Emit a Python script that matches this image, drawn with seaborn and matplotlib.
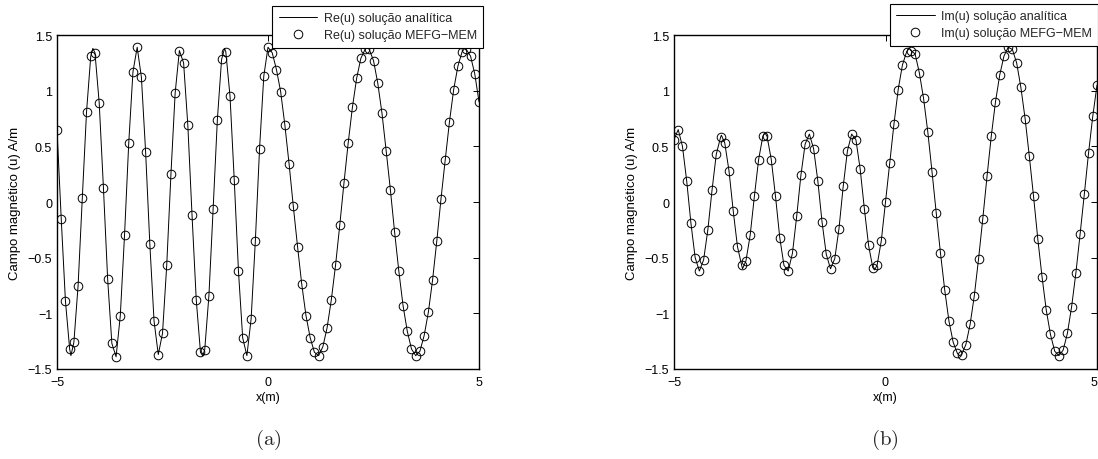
import numpy as np
import pandas as pd
import matplotlib
matplotlib.use("Agg")
import matplotlib.pyplot as plt
import seaborn as sns

sns.set_theme(style="white")
plt.rcParams["font.family"] = ["Liberation Sans", "DejaVu Sans"]
plt.rcParams["mathtext.fontset"] = "cm"

# Nodes of the meshless discretisation on [-5, 5]
x_nodes = np.linspace(-5.0, 5.0, 101)

# Real part of u at the nodes (MEFG-MEM solution)
re_mefg = [
    0.65, -0.15, -0.89, -1.32, -1.26, -0.75, 0.04, 0.81, 1.31, 1.34,
    0.89, 0.13, -0.69, -1.27, -1.39, -1.02, -0.30, 0.53, 1.17, 1.39,
    1.12, 0.45, -0.38, -1.07, -1.37, -1.18, -0.57, 0.25, 0.98, 1.36,
    1.25, 0.69, -0.12, -0.88, -1.35, -1.33, -0.84, -0.06, 0.74, 1.28,
    1.35, 0.95, 0.20, -0.62, -1.22, -1.38, -1.05, -0.35, 0.48, 1.13,
    1.39,
    1.34, 1.19, 0.99, 0.69, 0.34, -0.04, -0.40, -0.74, -1.02, -1.22,
    -1.35, -1.38, -1.30, -1.13, -0.88, -0.57, -0.21, 0.17, 0.53, 0.85,
    1.11, 1.29, 1.37, 1.37, 1.27, 1.07, 0.80, 0.46, 0.11, -0.27,
    -0.62, -0.93, -1.16, -1.32, -1.38, -1.34, -1.20, -0.99, -0.70, -0.35,
    0.03, 0.38, 0.72, 1.01, 1.22, 1.35, 1.37, 1.31, 1.15, 0.90,
]

# Imaginary part of u at the nodes (MEFG-MEM solution)
im_mefg = [
    0.56, 0.65, 0.50, 0.19, -0.19, -0.50, -0.62, -0.52, -0.25, 0.11,
    0.43, 0.58, 0.53, 0.28, -0.08, -0.40, -0.57, -0.53, -0.30, 0.05,
    0.38, 0.59, 0.59, 0.38, 0.05, -0.32, -0.57, -0.62, -0.46, -0.13,
    0.24, 0.52, 0.61, 0.48, 0.19, -0.18, -0.47, -0.60, -0.51, -0.24,
    0.14, 0.46, 0.61, 0.56, 0.30, -0.06, -0.39, -0.59, -0.57, -0.35,
    0.00,
    0.35, 0.70, 1.01, 1.23, 1.35, 1.36, 1.33, 1.16, 0.93, 0.63,
    0.27, -0.10, -0.46, -0.79, -1.07, -1.26, -1.36, -1.37, -1.28, -1.10,
    -0.84, -0.51, -0.15, 0.23, 0.59, 0.90, 1.14, 1.31, 1.39, 1.37,
    1.25, 1.03, 0.75, 0.41, 0.05, -0.33, -0.67, -0.97, -1.19, -1.34,
    -1.38, -1.33, -1.18, -0.94, -0.64, -0.29, 0.07, 0.44, 0.77, 1.05,
]

# Extra crests/troughs of the analytic curves that fall between nodes
re_crest_x = [-4.67, -4.15, -1.55, -1.03, 2.35, 4.66]
re_crest_y = [-1.38, 1.38, -1.38, 1.38, 1.39, 1.38]
im_crest_x = [-3.88, -3.38, -2.85, -0.26, 0.56, 1.75]
im_crest_y = [0.60, -0.60, 0.62, -0.61, 1.38, -1.38]

y_ticks = [-1.5, -1.0, -0.5, 0.0, 0.5, 1.0, 1.5]
y_tick_labels = ["\u22121.5", "\u22121", "\u22120.5", "0", "0.5", "1", "1.5"]
x_ticks = [-5, 0, 5]
x_tick_labels = ["\u22125", "0", "5"]

W, H = 1098, 460
fig = plt.figure(figsize=(W / 100, H / 100), dpi=100)
fig.patch.set_facecolor("white")

ax_a = fig.add_axes([57 / W, 1 - 370 / H, 422 / W, 334 / H])
ax_b = fig.add_axes([674 / W, 1 - 370 / H, 423 / W, 334 / H])

panels = [
    (ax_a, re_mefg, re_crest_x, re_crest_y, "Re(u)", "(a)", 268, (483, 7)),
    (ax_b, im_mefg, im_crest_x, im_crest_y, "Im(u)", "(b)", 885, (1098, 5)),
]

for ax, vals, cx, cy, part, cap, cap_x, leg_corner in panels:
    curve = pd.DataFrame({
        "x": np.concatenate([x_nodes, cx]),
        "y": np.concatenate([vals, cy]),
    }).sort_values("x")
    nodes = pd.DataFrame({"x": x_nodes, "y": vals})

    sns.lineplot(data=curve, x="x", y="y", ax=ax, color="black",
                 linewidth=0.7, sort=False, estimator=None)
    sns.lineplot(data=nodes, x="x", y="y", ax=ax, color="black",
                 linestyle="none", marker="o", markersize=6.2,
                 markerfacecolor="none", markeredgecolor="black",
                 markeredgewidth=0.7, sort=False, estimator=None)
    line_h, mark_h = ax.lines[0], ax.lines[1]
    mark_h.set_markerfacecolor("none")
    mark_h.set_markeredgecolor("black")

    ax.set_xlim(-5, 5)
    ax.set_ylim(-1.5, 1.5)
    ax.set_xticks(x_ticks)
    ax.set_xticklabels(x_tick_labels)
    ax.set_yticks(y_ticks)
    ax.set_yticklabels(y_tick_labels)
    ax.tick_params(direction="in", length=4, width=0.7, top=True, right=True,
                   labelsize=9, colors="black")
    ax.tick_params(axis="x", pad=5)
    ax.tick_params(axis="y", pad=3.5)
    for s in ax.spines.values():
        s.set_color("black")
        s.set_linewidth(1.0)
    ax.set_xlabel("x(m)", fontsize=9, color="black", labelpad=2.5)
    ax.set_ylabel("Campo magnético (u) A/m", fontsize=9.5, color="black",
                  labelpad=5)
    ax.grid(False)

    leg = ax.legend(
        handles=[line_h, mark_h],
        labels=[f"{part} solução analítica", f"{part} solução MEFG\u2212MEM"],
        loc="upper right",
        bbox_to_anchor=(leg_corner[0] / W, 1 - leg_corner[1] / H),
        bbox_transform=fig.transFigure,
        frameon=True, fancybox=False, framealpha=1, edgecolor="black",
        fontsize=9, handlelength=3.1, handletextpad=0.5,
        borderpad=0.5, labelspacing=0.42, borderaxespad=0,
    )
    leg.get_frame().set_linewidth(0.8)

    fig.text(cap_x / W, 1 - 440 / H, r"$\mathrm{" + cap + "}$",
             ha="center", va="center", fontsize=15)

# The right panel touches the figure edge: keep its last x label inside
ax_b.get_xticklabels()[-1].set_horizontalalignment("right")

fig.savefig("out.png", dpi=100, facecolor="white")
